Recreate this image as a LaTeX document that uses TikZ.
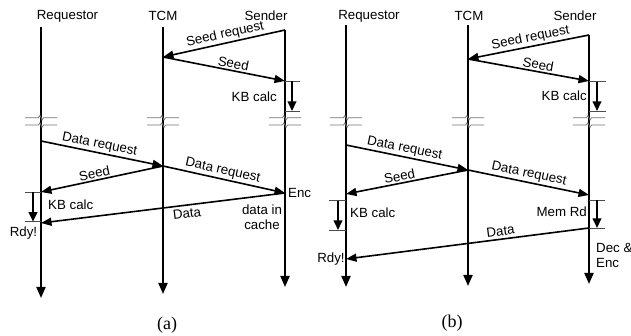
\documentclass[tikz,border=0pt]{standalone}
\usepackage{fontspec}
\setmainfont{Liberation Sans}
\newfontfamily\capfont{Liberation Serif}
\usetikzlibrary{arrows.meta}
\begin{document}
\begin{tikzpicture}[x=1pt,y=-1pt,
  every node/.style={font=\fontsize{13.3}{15}\selectfont, inner sep=0pt},
  life/.style={line width=2pt, -{Triangle[length=11pt,width=9pt]}},
  msg/.style={line width=1.6pt, -{Triangle[length=10.5pt,width=8pt]}},
  msgl/.style={line width=1.6pt, {Triangle[length=10.5pt,width=8pt]}-},
  calcarrow/.style={line width=2pt, -{Triangle[length=9.5pt,width=8.5pt]}},
  tickline/.style={draw=black!70, line width=0.8pt},
  brkline/.style={draw=black!55, line width=0.8pt},
  lbl/.style={sloped, inner sep=1.5pt},
  figcap/.style={font=\capfont\fontsize{18}{20}\selectfont},
  brk/.pic={
    \draw[brkline] (-16,-3.7) -- (-2.5,-3.7) -- (-1,-6) -- (1,-1.4) -- (2.5,-3.7) -- (16,-3.7);
    \draw[brkline] (-16,3.7) -- (-2.5,3.7) -- (-1,1.4) -- (1,6) -- (2.5,3.7) -- (16,3.7);
  }
]
\useasboundingbox (0,0) rectangle (631,336);

% ================= panel (a) =================
\node (aReq) at (67.5,16) {Requestor};
\node (aTCM) at (163,16) {TCM};
\node (aSnd) at (266,16) {Sender};

\coordinate (aRt) at (41,27);  \coordinate (aRb) at (41,298);
\coordinate (aTt) at (163,27); \coordinate (aTb) at (163,294);
\coordinate (aSt) at (285,30); \coordinate (aSb) at (285,287);
\draw[life] (aRt) -- (aRb);
\draw[life] (aTt) -- (aTb);
\draw[life] (aSt) -- (aSb);

\pic at (41,121.4) {brk};
\pic at (163,121.4) {brk};
\pic at (285,121.4) {brk};

\coordinate (aT1) at (163,57);
\coordinate (aS2) at (285,81);
\coordinate (aR3) at (41,141);
\coordinate (aT3) at (163,166);
\coordinate (aS4) at (285,193);
\coordinate (aR5) at (41,192);
\coordinate (aR6) at (41,223);

\draw[msgl] (aT1) -- node[lbl, above, pos=0.525] {Seed request} (aSt);
\draw[msg] (aT1) -- node[lbl, above, pos=0.566] {Seed} (aS2);
\draw[msg] (aR3) -- node[lbl, above, pos=0.467] {Data request} (aT3);
\draw[msg] (aT3) -- node[lbl, above, pos=0.475] {Data request} (aS4);
\draw[msgl] (aR5) -- node[lbl, above, pos=0.45] {Seed} (aT3);
\draw[msgl] (aR6) -- node[lbl, below, pos=0.594, inner sep=3pt] {Data} (aS4);

% KB calc at sender
\coordinate (aK1a) at (285,81);  \coordinate (aK1b) at (300,81);
\coordinate (aK1c) at (285,111); \coordinate (aK1d) at (300,111);
\draw[tickline] (aK1a) -- (aK1b);
\draw[tickline] (aK1c) -- (aK1d);
\coordinate (aK1t) at (292,81); \coordinate (aK1e) at (292,111);
\draw[calcarrow] (aK1t) -- (aK1e);
\node[anchor=east] (aKB1) at (277,97) {KB calc};

% KB calc at requestor
\coordinate (aK2a) at (25,192.3); \coordinate (aK2b) at (41,192.3);
\coordinate (aK2c) at (25,221.7); \coordinate (aK2d) at (41,221.7);
\draw[tickline] (aK2a) -- (aK2b);
\draw[tickline] (aK2c) -- (aK2d);
\coordinate (aK2t) at (33,192.3); \coordinate (aK2e) at (33,221.7);
\draw[calcarrow] (aK2t) -- (aK2e);
\node[anchor=west] (aKB2) at (48,205) {KB calc};

\node[anchor=west] (aEnc) at (288,193) {Enc};
\node[align=center] (aCache) at (262,217.5) {data in\\cache};
\node (aRdy) at (23.5,233) {Rdy!};
\node[figcap] (aCap) at (167,325) {(a)};

% ================= panel (b) =================
\node (bReq) at (369,16) {Requestor};
\node (bTCM) at (469,16) {TCM};
\node (bSnd) at (575,16) {Sender};

\coordinate (bRt) at (346,25);  \coordinate (bRb) at (346,287);
\coordinate (bTt) at (468,25);  \coordinate (bTb) at (468,286);
\coordinate (bSt) at (589,35);  \coordinate (bSb) at (589,284);
\draw[life] (bRt) -- (bRb);
\draw[life] (bTt) -- (bTb);
\draw[life] (bSt) -- (bSb);

\pic at (346,121.4) {brk};
\pic at (468,121.4) {brk};
\pic at (589,121.4) {brk};

\coordinate (bT1) at (468,59);
\coordinate (bS2) at (589,81);
\coordinate (bR3) at (346,145);
\coordinate (bT3) at (468,170);
\coordinate (bS4) at (589,195);
\coordinate (bR5) at (346,194);
\coordinate (bS6) at (589,228);
\coordinate (bR6) at (346,259);

\draw[msgl] (bT1) -- node[lbl, above, pos=0.53] {Seed request} (bSt);
\draw[msg] (bT1) -- node[lbl, above, pos=0.57] {Seed} (bS2);
\draw[msg] (bR3) -- node[lbl, above, pos=0.467] {Data request} (bT3);
\draw[msg] (bT3) -- node[lbl, above, pos=0.49] {Data request} (bS4);
\draw[msgl] (bR5) -- node[lbl, above, pos=0.45] {Seed} (bT3);
\draw[msgl] (bR6) -- node[lbl, above, pos=0.64, inner sep=2.5pt] {Data} (bS6);

% KB calc at sender
\coordinate (bK1a) at (589,81.7); \coordinate (bK1b) at (606,81.7);
\coordinate (bK1c) at (589,111);  \coordinate (bK1d) at (606,111);
\draw[tickline] (bK1a) -- (bK1b);
\draw[tickline] (bK1c) -- (bK1d);
\coordinate (bK1t) at (597,81.7); \coordinate (bK1e) at (597,111);
\draw[calcarrow] (bK1t) -- (bK1e);
\node[anchor=east] (bKB1) at (587,96) {KB calc};

% Mem Rd at sender
\coordinate (bK2a) at (589,200); \coordinate (bK2b) at (605,200);
\coordinate (bK2c) at (589,228); \coordinate (bK2d) at (605,228);
\draw[tickline] (bK2a) -- (bK2b);
\draw[tickline] (bK2c) -- (bK2d);
\coordinate (bK2t) at (597,200); \coordinate (bK2e) at (597,228);
\draw[calcarrow] (bK2t) -- (bK2e);
\node[anchor=east] (bMem) at (587,212) {Mem Rd};

% KB calc at requestor
\coordinate (bK3a) at (329,200.7); \coordinate (bK3b) at (346,200.7);
\coordinate (bK3c) at (329,230);   \coordinate (bK3d) at (346,230);
\draw[tickline] (bK3a) -- (bK3b);
\draw[tickline] (bK3c) -- (bK3d);
\coordinate (bK3t) at (338,200.7); \coordinate (bK3e) at (338,230);
\draw[calcarrow] (bK3t) -- (bK3e);
\node[anchor=west] (bKB2) at (350,213) {KB calc};

\node[anchor=west, align=left] (bDec) at (596,255) {Dec \&\\Enc};
\node (bRdy) at (331,259) {Rdy!};
\node[figcap] (bCap) at (452,323) {(b)};
\end{tikzpicture}
\end{document}
